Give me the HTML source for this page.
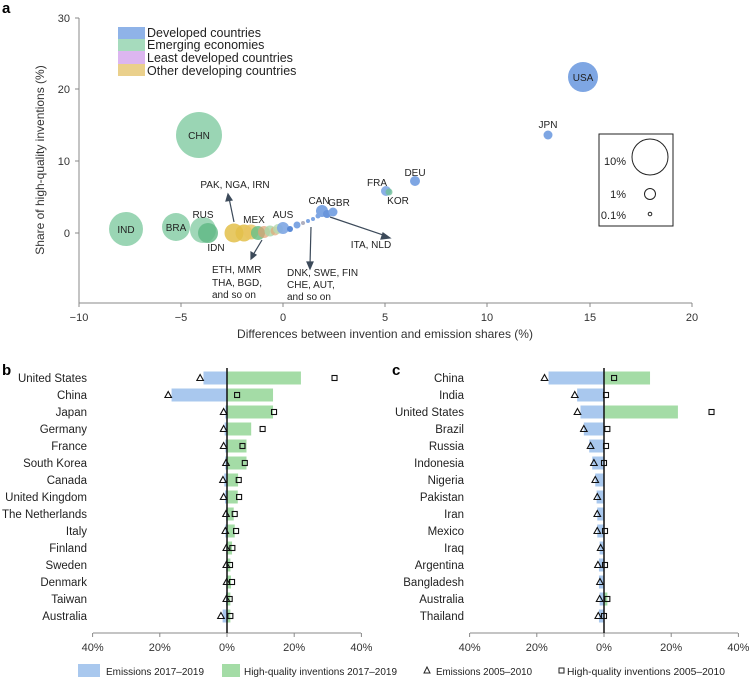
<!DOCTYPE html>
<html><head><meta charset="utf-8"><style>
html,body{margin:0;padding:0;background:#fff;}
svg{display:block;font-family:"Liberation Sans",sans-serif;}
</style></head><body>
<svg id="s" width="750" height="677" viewBox="0 0 750 677" xmlns="http://www.w3.org/2000/svg">
<text x="2" y="13" font-size="15" font-weight="bold">a</text>
<g stroke="#888" stroke-width="1" fill="none">
<line x1="79" y1="18" x2="79" y2="303"/>
<line x1="79" y1="303" x2="692" y2="303"/>
<line x1="75" y1="18" x2="79" y2="18"/><line x1="75" y1="89" x2="79" y2="89"/><line x1="75" y1="161" x2="79" y2="161"/><line x1="75" y1="233" x2="79" y2="233"/>
<line x1="79" y1="303" x2="79" y2="307"/><line x1="181" y1="303" x2="181" y2="307"/><line x1="283" y1="303" x2="283" y2="307"/><line x1="385" y1="303" x2="385" y2="307"/><line x1="487" y1="303" x2="487" y2="307"/><line x1="590" y1="303" x2="590" y2="307"/><line x1="692" y1="303" x2="692" y2="307"/>
</g>
<g font-size="11" fill="#333" text-anchor="end">
<text x="70" y="22">30</text><text x="70" y="93">20</text><text x="70" y="165">10</text><text x="70" y="237">0</text>
</g>
<g font-size="11" fill="#333" text-anchor="middle">
<text x="79" y="321">−10</text><text x="181" y="321">−5</text><text x="283" y="321">0</text><text x="385" y="321">5</text><text x="487" y="321">10</text><text x="590" y="321">15</text><text x="692" y="321">20</text>
</g>
<text x="385" y="338" font-size="12" fill="#333" text-anchor="middle">Differences between invention and emission shares (%)</text>
<text transform="translate(44,160) rotate(-90)" font-size="12" fill="#333" text-anchor="middle">Share of high-quality inventions (%)</text>
<rect x="118" y="27" width="27" height="12" fill="#8fb3e8"/>
<rect x="118" y="39" width="27" height="12" fill="#a6dbbd"/>
<rect x="118" y="51" width="27" height="13" fill="#dcb6f0"/>
<rect x="118" y="64" width="27" height="12" fill="#ead08c"/>
<g font-size="12.5" fill="#222">
<text x="147" y="37">Developed countries</text><text x="147" y="49">Emerging economies</text><text x="147" y="62">Least developed countries</text><text x="147" y="75">Other developing countries</text>
</g>
<g>
<circle cx="583" cy="77" r="15" fill="#7ea6e3"/>
<circle cx="548" cy="135" r="4.5" fill="#7ea6e3"/>
<circle cx="415" cy="181" r="5" fill="#7ea6e3"/>
<circle cx="386" cy="191" r="5" fill="#7ea6e3" opacity=".9"/>
<circle cx="389" cy="192" r="3.5" fill="#6fbf99" opacity=".8"/>
<circle cx="199" cy="135" r="23" fill="#8fd0ac" opacity=".9"/>
<circle cx="126" cy="229" r="17" fill="#8fd0ac" opacity=".9"/>
<circle cx="176" cy="227" r="14" fill="#8fd0ac" opacity=".9"/>
<circle cx="203" cy="230" r="13" fill="#8fd0ac" opacity=".85"/>
<circle cx="208" cy="233" r="10" fill="#5eb883" opacity=".8"/>
<circle cx="234" cy="233" r="9.5" fill="#e3bf4a" opacity=".85"/>
<circle cx="244" cy="233" r="8.5" fill="#e3bf4a" opacity=".85"/>
<circle cx="251" cy="232" r="7.5" fill="#e8c460" opacity=".8"/>
<circle cx="258" cy="233" r="7" fill="#6cbf86" opacity=".85"/>
<circle cx="264" cy="232" r="6" fill="#e0a070" opacity=".7"/>
<circle cx="270" cy="231" r="5.5" fill="#a8d7a8" opacity=".8"/>
<circle cx="275" cy="231" r="4.5" fill="#e3a878" opacity=".7"/>
<circle cx="278" cy="229" r="5" fill="#b5dcb0" opacity=".8"/>
<circle cx="283" cy="228" r="6" fill="#7ea6e3" opacity=".9"/>
<circle cx="290" cy="229" r="3" fill="#5a8ad6"/>
<circle cx="297" cy="225" r="3.5" fill="#7ea6e3"/>
<circle cx="303" cy="223" r="2" fill="#b0b0c0"/>
<circle cx="308" cy="221" r="2" fill="#7ea6e3"/>
<circle cx="313" cy="219" r="2" fill="#7ea6e3"/>
<circle cx="318" cy="216" r="2.5" fill="#7ea6e3"/>
<circle cx="322" cy="211" r="6" fill="#7ea6e3"/>
<circle cx="327" cy="214" r="4" fill="#6a96dc"/>
<circle cx="333" cy="212" r="4.5" fill="#7ea6e3"/>
</g>
<g font-size="10" fill="#222" text-anchor="middle">
<text x="583" y="81">USA</text><text x="548" y="128">JPN</text><text x="415" y="176">DEU</text>
<text x="377" y="186">FRA</text><text x="398" y="204">KOR</text>
<text x="199" y="139">CHN</text><text x="126" y="233">IND</text><text x="176" y="231">BRA</text>
<text x="203" y="218">RUS</text><text x="216" y="251">IDN</text><text x="254" y="223">MEX</text>
<text x="283" y="218">AUS</text><text x="319" y="204">CAN</text><text x="339" y="206">GBR</text>
<text x="235" y="188">PAK, NGA, IRN</text>
<text x="371" y="248">ITA, NLD</text>
</g>
<g font-size="10" fill="#222">
<text x="212" y="273">ETH, MMR</text><text x="212" y="286">THA, BGD,</text><text x="212" y="298">and so on</text>
<text x="287" y="276">DNK, SWE, FIN</text><text x="287" y="288">CHE, AUT,</text><text x="287" y="300">and so on</text>
</g>
<g stroke="#3c4a5a" stroke-width="1.2" fill="#3c4a5a">
<line x1="234" y1="222" x2="229" y2="198"/><polygon points="228,194 226,201 232,200"/>
<line x1="262" y1="240" x2="253" y2="255"/><polygon points="251,259 251,252 256,255"/>
<line x1="311" y1="227" x2="310" y2="265"/><polygon points="310,269 307,262 313,262"/>
<line x1="330" y1="217" x2="386" y2="236"/><polygon points="390,238 383,233 381,239"/>
</g>
<rect x="599" y="134" width="74" height="92" fill="none" stroke="#222" stroke-width="1"/>
<circle cx="650" cy="157" r="18" fill="none" stroke="#222"/>
<circle cx="650" cy="194" r="5.5" fill="none" stroke="#222"/>
<circle cx="650" cy="214" r="1.8" fill="none" stroke="#222"/>
<g font-size="11" fill="#222" text-anchor="end">
<text x="626" y="165">10%</text><text x="626" y="198">1%</text><text x="626" y="219">0.1%</text>
</g>
<text x="2" y="375" font-size="15" font-weight="bold">b</text>
<text x="392" y="375" font-size="15" font-weight="bold">c</text>
<g id="b"></g>
<rect x="78" y="664" width="22" height="13" fill="#a9c8ee"/>
<rect x="222" y="664" width="18" height="13" fill="#a4dca6"/>
<g font-size="10.5" fill="#222">
<text x="106" y="675" textLength="98" lengthAdjust="spacingAndGlyphs">Emissions 2017–2019</text>
<text x="244" y="675" textLength="153" lengthAdjust="spacingAndGlyphs">High-quality inventions 2017–2019</text>
<text x="436" y="675" textLength="96" lengthAdjust="spacingAndGlyphs">Emissions 2005–2010</text>
<text x="567" y="675" textLength="158" lengthAdjust="spacingAndGlyphs">High-quality inventions 2005–2010</text>
</g>
<polygon points="427,667 424,673 430,673" fill="none" stroke="#222" stroke-width="1"/>
<rect x="559" y="668" width="5" height="5" fill="none" stroke="#222" stroke-width="1"/>
</svg>
<script>
var ns="http://www.w3.org/2000/svg",g=document.getElementById('b');
function el(t,a,txt){var e=document.createElementNS(ns,t);for(var k in a)e.setAttribute(k,a[k]);if(txt)e.textContent=txt;g.appendChild(e);return e;}
var B=[["United States",-7,22,-8,32],["China",-16.5,13.7,-17.5,3],["Japan",-0.5,13.7,-1,14],["Germany",-0.7,7.2,-1,10.6],["France",-0.5,5.8,-1,4.6],["South Korea",-0.5,5.8,-0.3,5.3],["Canada",-0.8,3.3,-1.2,3.5],["United Kingdom",-0.6,3.2,-1,3.6],["The Netherlands",-0.3,2,-0.3,2.3],["Italy",-0.5,2.3,-0.5,2.7],["Finland",-0.2,1.5,-0.2,1.6],["Sweden",-0.2,1,-0.2,0.9],["Denmark",-0.2,1.2,-0.1,1.5],["Taiwan",-0.3,1,-0.2,0.8],["Australia",-1.3,1,-1.8,1]];
var C=[["China",-16.5,13.7,-17.7,3],["India",-8,0,-8.7,0.6],["United States",-7,22,-7.9,32],["Brazil",-6,0,-6,1],["Russia",-4.4,0,-4,0.6],["Indonesia",-3.5,0,-3,0],["Nigeria",-2.6,0,-2.6,null],["Pakistan",-2.2,0,-2,null],["Iran",-2,0,-2,null],["Mexico",-2,0,-2,0.3],["Iraq",-1.3,0,-1,null],["Argentina",-1.5,0,-1.8,0.3],["Bangladesh",-1.5,0,-1.2,null],["Australia",-1.3,1,-1.3,1],["Thailand",-1.5,0,-1.7,0]];
function panel(D,z,lx){
 var s=3.36,y0=378;
 el('line',{x1:z-134,y1:633,x2:z+134,y2:633,stroke:'#888'});
 [-40,-20,0,20,40].forEach(function(v){var x=z+v*s;el('line',{x1:x,y1:633,x2:x,y2:637,stroke:'#888'});el('text',{x:x,y:651,'font-size':11,'text-anchor':'middle',fill:'#333'},Math.abs(v)+'%');});
 D.forEach(function(d,i){var y=y0+i*17;
  el('text',{x:lx,y:y+4,'font-size':11.5,'text-anchor':'end',fill:'#222'},d[0]);
  if(d[1]<0)el('rect',{x:z+d[1]*s,y:y-6.5,width:-d[1]*s,height:13,fill:'#a9c8ee'});
  if(d[2]>0)el('rect',{x:z,y:y-6.5,width:d[2]*s,height:13,fill:'#a4dca6'});
 });
 el('line',{x1:z,y1:368,x2:z,y2:633,stroke:'#111','stroke-width':1.5});
 D.forEach(function(d,i){var y=y0+i*17,tx=z+d[3]*s;
  el('polygon',{points:(tx)+','+(y-3.5)+' '+(tx-3.3)+','+(y+2.5)+' '+(tx+3.3)+','+(y+2.5),fill:'none',stroke:'#111','stroke-width':1.1});
  if(d[4]!==null){var qx=z+d[4]*s;el('rect',{x:qx-2.5,y:y-2.5,width:5,height:5,fill:'none',stroke:'#111','stroke-width':1.1});}
 });
}
panel(B,227,87);panel(C,604,464);
</script>
</body></html>
